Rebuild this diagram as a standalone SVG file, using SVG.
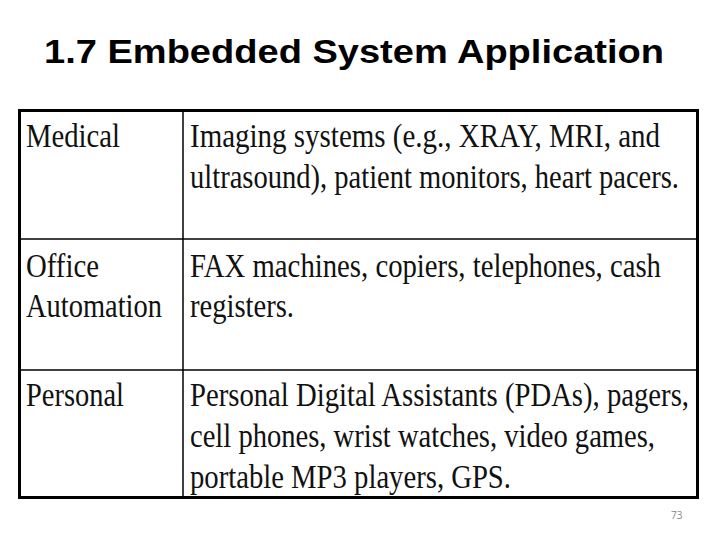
<svg xmlns="http://www.w3.org/2000/svg" width="720" height="540" viewBox="0 0 720 540">
<style>
.t{font-family:"Liberation Serif",serif;font-size:33px;fill:#111}
.h{font-family:"Liberation Sans",sans-serif;font-weight:bold;font-size:33px;fill:#000}
.g{stroke:#000;stroke-width:1.5;fill:none}
</style>
<rect width="720" height="540" fill="#fff"/>
<text class="h" x="354" y="63" text-anchor="middle" textLength="620" lengthAdjust="spacingAndGlyphs">1.7 Embedded System Application</text>
<g id="table">
<rect x="19.5" y="110.5" width="678" height="387" fill="#fff" stroke="#000" stroke-width="3"/>
<line class="g" x1="183" y1="111" x2="183" y2="497"/>
<line class="g" x1="19" y1="239" x2="697" y2="239"/>
<line class="g" x1="19" y1="370" x2="697" y2="370"/>
</g>
<g id="row-medical">
<text class="t" x="26" y="147" textLength="94" lengthAdjust="spacingAndGlyphs">Medical</text>
<text class="t" x="190" y="147" textLength="470" lengthAdjust="spacingAndGlyphs">Imaging systems (e.g., XRAY, MRI, and</text>
<text class="t" x="190" y="188" textLength="489" lengthAdjust="spacingAndGlyphs">ultrasound), patient monitors, heart pacers.</text>
</g>
<g id="row-office">
<text class="t" x="26" y="277" textLength="73" lengthAdjust="spacingAndGlyphs">Office</text>
<text class="t" x="26" y="317" textLength="136" lengthAdjust="spacingAndGlyphs">Automation</text>
<text class="t" x="190" y="277" textLength="471" lengthAdjust="spacingAndGlyphs">FAX machines, copiers, telephones, cash</text>
<text class="t" x="190" y="317" textLength="104" lengthAdjust="spacingAndGlyphs">registers.</text>
</g>
<g id="row-personal">
<text class="t" x="26" y="406" textLength="98" lengthAdjust="spacingAndGlyphs">Personal</text>
<text class="t" x="190" y="406" textLength="499" lengthAdjust="spacingAndGlyphs">Personal Digital Assistants (PDAs), pagers,</text>
<text class="t" x="190" y="447" textLength="465" lengthAdjust="spacingAndGlyphs">cell phones, wrist watches, video games,</text>
<text class="t" x="190" y="488" textLength="321" lengthAdjust="spacingAndGlyphs">portable MP3 players, GPS.</text>
</g>
<text x="671" y="519" font-family="'Open Sans','Liberation Sans',sans-serif" font-size="10" fill="#888">73</text>
</svg>
